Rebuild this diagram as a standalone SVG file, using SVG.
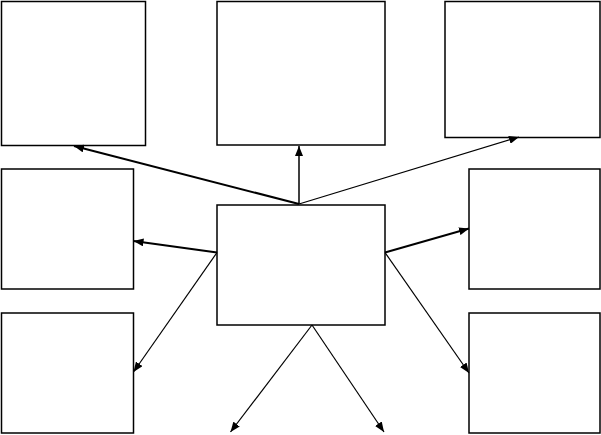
<svg xmlns="http://www.w3.org/2000/svg" width="601" height="435" viewBox="0 0 601 435">
<style>
.box{fill:#fff;stroke:#000;stroke-width:1.5}
.thick{stroke:#000;stroke-width:2;fill:none;marker-end:url(#ah)}
.thin{stroke:#000;stroke-width:1.2;fill:none;marker-end:url(#ah)}
.mid{stroke:#000;stroke-width:1.5;fill:none;marker-end:url(#ah)}
</style>
<defs>
<marker id="ah" markerUnits="userSpaceOnUse" markerWidth="11" markerHeight="8" refX="10" refY="4" orient="auto">
<path d="M0,0 L10,4 L0,8 z" fill="#000"/>
</marker>
</defs>
<rect width="601" height="435" fill="#fff"/>
<g id="box-top-left"><rect class="box" x="1.5" y="1.5" width="144" height="144"/></g>
<g id="box-top-center"><rect class="box" x="217" y="1.5" width="168" height="143.5"/></g>
<g id="box-top-right"><rect class="box" x="445" y="1.5" width="155" height="136"/></g>
<g id="box-mid-left"><rect class="box" x="1.5" y="169" width="132" height="120"/></g>
<g id="box-center"><rect class="box" x="217" y="205" width="168" height="120"/></g>
<g id="box-mid-right"><rect class="box" x="469" y="169" width="131" height="120"/></g>
<g id="box-bottom-left"><rect class="box" x="1.5" y="313" width="132" height="120"/></g>
<g id="box-bottom-right"><rect class="box" x="469" y="313" width="131" height="120"/></g>
<g id="connectors">
<line class="thick" x1="299" y1="204" x2="74" y2="146"/>
<line class="mid" x1="299" y1="204" x2="299" y2="146"/>
<line class="thin" x1="299" y1="204" x2="519" y2="137"/>
<line class="thick" x1="217" y1="252.5" x2="133.5" y2="241"/>
<line class="thin" x1="217" y1="252.5" x2="133.5" y2="372"/>
<line class="thick" x1="385" y1="252.5" x2="469" y2="228.5"/>
<line class="thin" x1="385" y1="252.5" x2="469" y2="373"/>
<line class="thin" x1="312" y1="325" x2="230.5" y2="432"/>
<line class="thin" x1="312" y1="325" x2="384" y2="432"/>
</g>
</svg>
